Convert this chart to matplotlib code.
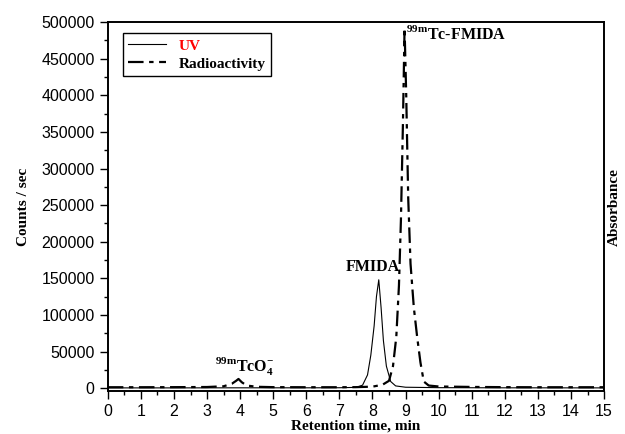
import matplotlib

matplotlib.use("Agg")
import matplotlib.pyplot as plt
from matplotlib.ticker import MultipleLocator

# retention time (min) and counts
radio_t = [0, 1, 2, 3, 3.5, 3.75, 3.88, 3.95, 4.05, 4.2, 4.5, 5, 6, 7, 7.5, 8.0, 8.3, 8.5,
           8.62, 8.72, 8.8, 8.86, 8.92, 8.97, 9.02, 9.08, 9.15, 9.25, 9.35, 9.45, 9.55,
           9.7, 10, 11, 12, 13, 14, 15]
radio_cps = [1200, 1200, 1300, 1500, 2500, 6000, 10000, 12500, 8000, 3500, 1800, 1300, 1200,
             1200, 1300, 2000, 4500, 10000, 30000, 70000, 140000, 230000, 360000, 492000,
             400000, 260000, 170000, 110000, 70000, 35000, 9000, 3500, 2200, 1600, 1300,
             1200, 1200, 1200]

uv_t = [0, 2, 4, 6, 7, 7.5, 7.7, 7.85, 7.95, 8.05, 8.12, 8.19, 8.26, 8.33, 8.42, 8.55,
        8.7, 9, 10, 12, 15]
uv_abs = [300, 300, 400, 400, 500, 1000, 4000, 18000, 45000, 85000, 125000, 148000,
          110000, 65000, 30000, 9000, 3000, 1200, 600, 400, 300]

serif = "Liberation Serif"
plt.rcParams["font.family"] = ["Liberation Sans", "DejaVu Sans"]
plt.rcParams["mathtext.fontset"] = "custom"
plt.rcParams["mathtext.rm"] = serif
plt.rcParams["mathtext.bf"] = serif + ":bold"

fig = plt.figure(figsize=(6.25, 4.34), dpi=100)
ax = fig.add_axes([0.1725, 0.099, 0.794, 0.850])
ax2 = ax.twinx()

ln_uv, = ax2.plot(uv_t, uv_abs, color="black", linewidth=0.8)
ln_rad, = ax.plot(radio_t, radio_cps, color="black", linewidth=1.6,
                  dashes=(7, 2.5, 2, 2.5))

ax.set_xlim(0, 15)
ax.set_ylim(-4000, 500000)
ax2.set_ylim(-4000, 500000)
ax2.set_yticks([])

ax.xaxis.set_major_locator(MultipleLocator(1))
ax.xaxis.set_minor_locator(MultipleLocator(0.5))
ax.yaxis.set_major_locator(MultipleLocator(50000))
ax.yaxis.set_minor_locator(MultipleLocator(25000))
ax.tick_params(which="both", direction="out", labelsize=11.5, top=False, right=False)
ax.tick_params(which="major", length=6, width=1)
ax.tick_params(which="minor", length=3, width=1)
for sp in list(ax.spines.values()) + list(ax2.spines.values()):
    sp.set_linewidth(1.2)

lab = dict(family=serif, fontweight="bold", fontsize=11)
ax.set_xlabel("Retention time, min", labelpad=0, **lab)
ax.set_ylabel("Counts / sec", labelpad=8, **lab)
ax2.set_ylabel("Absorbance", labelpad=3, **lab)

leg = ax.legend([ln_uv, ln_rad], ["UV", "Radioactivity"], loc="upper left",
                bbox_to_anchor=(0.015, 0.99), fancybox=False, framealpha=1,
                edgecolor="black", handlelength=2.5, borderpad=0.35, labelspacing=0.3,
                prop=dict(family=serif, weight="bold", size=11))
leg.get_frame().set_linewidth(1.0)
leg.get_texts()[0].set_color("red")

ann = dict(family=serif, fontweight="bold", fontsize=11.5)
ax.text(8.82, 155000, "FMIDA", ha="right", va="bottom", **ann)
ax.text(9.0, 472000, r"$^{\mathbf{99m}}$Tc-FMIDA", ha="left", va="bottom", **ann)
ax.text(4.15, 14000, r"$^{\mathbf{99m}}$TcO$_{\mathbf{4}}^{\mathbf{-}}$", ha="center",
        va="bottom", **ann)

fig.savefig("out.png", dpi=100, facecolor="white")
